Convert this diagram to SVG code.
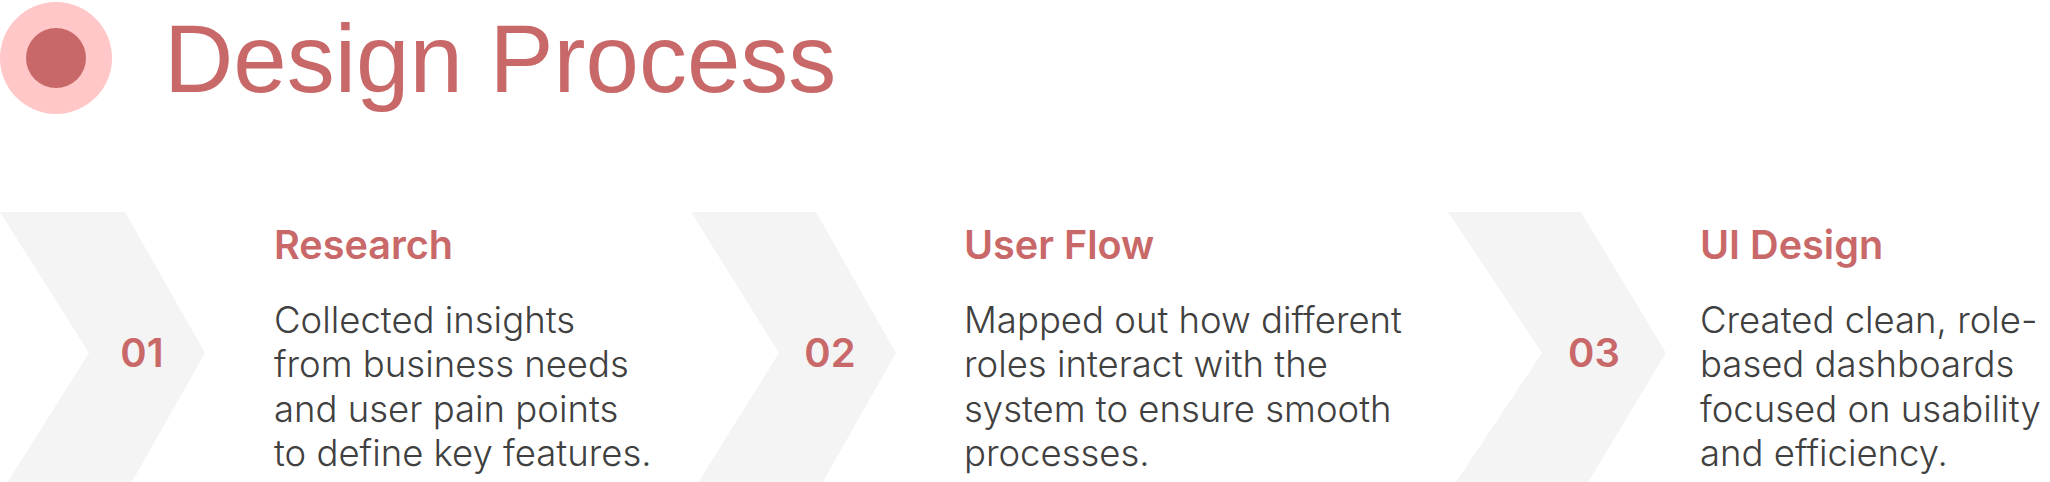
<svg xmlns="http://www.w3.org/2000/svg" width="2050" height="482" viewBox="0 0 2050 482">
  <style>
    .chev { fill: #F4F4F4; }
    .title { font-family: "Liberation Sans", Arial, sans-serif; font-size: 96px; fill: #C96868; }
    .num { font-family: Inter, "Noto Sans", sans-serif; font-size: 40px; font-weight: 600; fill: #C96868; text-anchor: middle; }
    .head { font-family: Inter, "Noto Sans", sans-serif; font-size: 39.6px; font-weight: 600; fill: #C96868; }
    .body { font-family: Inter, "Noto Sans", sans-serif; font-size: 36.5px; font-weight: 350; fill: #404040; }
  </style>
  <rect width="2050" height="482" fill="#FFFFFF"/>
  <g id="header">
    <circle cx="56" cy="58" r="56" fill="#FFC7C7"/>
    <circle cx="56" cy="58" r="30" fill="#C96868"/>
    <text class="title" x="164" y="92">Design Process</text>
  </g>
  <g id="step1">
    <polygon class="chev" points="0,212 125,212 205,353 125,494 0,494 89,353"/>
    <text class="num" x="142" y="367">01</text>
    <text class="head" x="274" y="259">Research</text>
    <text class="body">
      <tspan x="274" y="333">Collected insights</tspan>
      <tspan x="274" y="377.3">from business needs</tspan>
      <tspan x="274" y="421.6">and user pain points</tspan>
      <tspan x="274" y="465.9">to define key features.</tspan>
    </text>
  </g>
  <g id="step2">
    <polygon class="chev" points="691,212 816,212 896,353 816,494 691,494 779,353"/>
    <text class="num" x="830" y="367">02</text>
    <text class="head" x="964" y="259">User Flow</text>
    <text class="body">
      <tspan x="964" y="333">Mapped out how different</tspan>
      <tspan x="964" y="377.3">roles interact with the</tspan>
      <tspan x="964" y="421.6">system to ensure smooth</tspan>
      <tspan x="964" y="465.9">processes.</tspan>
    </text>
  </g>
  <g id="step3">
    <polygon class="chev" points="1448,212 1581,212 1666,353 1581,494 1448,494 1542,353"/>
    <text class="num" x="1594" y="367">03</text>
    <text class="head" x="1700" y="259">UI Design</text>
    <text class="body">
      <tspan x="1700" y="333">Created clean, role-</tspan>
      <tspan x="1700" y="377.3">based dashboards</tspan>
      <tspan x="1700" y="421.6">focused on usability</tspan>
      <tspan x="1700" y="465.9">and efficiency.</tspan>
    </text>
  </g>
  <g id="connectors"/>
</svg>
